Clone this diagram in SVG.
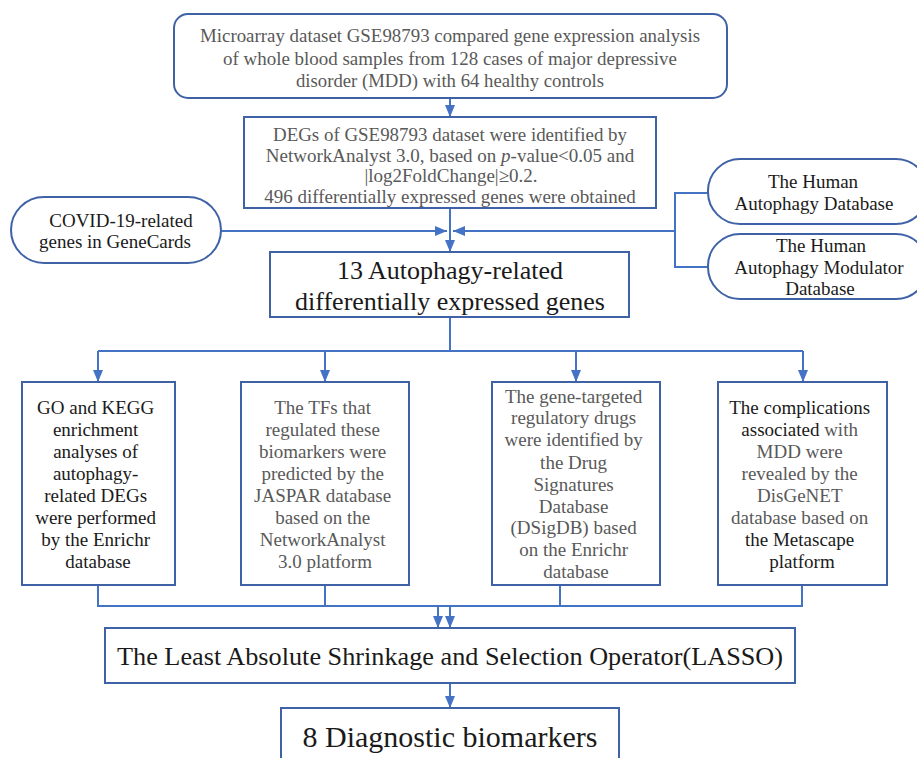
<svg xmlns="http://www.w3.org/2000/svg" width="917" height="758" viewBox="0 0 917 758">
<defs>
<marker id="ah" markerUnits="userSpaceOnUse" markerWidth="12" markerHeight="10" refX="12" refY="5" orient="auto">
<path d="M0,0 L12,5 L0,10 z" fill="#4472C4"/>
</marker>
<style>
.box{fill:#fff;stroke:#3F62A6;stroke-width:2}
.ln{fill:none;stroke:#4472C4;stroke-width:2}
.ar{fill:none;stroke:#4472C4;stroke-width:2;marker-end:url(#ah)}
text{font-family:"Liberation Serif","Times New Roman",serif;text-anchor:middle;font-size:19px}
.g{fill:#595959}
.k{fill:#1a1a1a}
</style>
</defs>
<rect width="917" height="758" fill="#fff"/>
<g id="connectors">
<path class="ar" d="M450,98 V117"/>
<path class="ar" d="M450,208 V252"/>
<path class="ar" d="M221,231 H447"/>
<path class="ln" d="M708,193 H675 V267 H708"/>
<path class="ar" d="M675,231 H453"/>
<path class="ln" d="M450,317 V351 M98,351 H803"/>
<path class="ar" d="M98,351 V382"/>
<path class="ar" d="M325,351 V382"/>
<path class="ar" d="M576,351 V382"/>
<path class="ar" d="M803,351 V382"/>
<path class="ln" d="M98,585 V606 H802 V585 M325,585 V606 M560,585 V606"/>
<path class="ar" d="M438,606 V628"/>
<path class="ar" d="M450,606 V628"/>
<path class="ar" d="M450,683 V708"/>
</g>
<g id="n-dataset">
<rect class="box" x="174" y="14" width="553" height="84" rx="14"/>
<text class="g" x="450" y="42" textLength="500" lengthAdjust="spacingAndGlyphs">Microarray dataset GSE98793 compared gene expression analysis</text>
<text class="g" x="450" y="65" textLength="454" lengthAdjust="spacingAndGlyphs">of whole blood samples from 128 cases of major depressive</text>
<text class="g" x="450" y="87" textLength="308" lengthAdjust="spacingAndGlyphs">disorder (MDD) with 64 healthy controls</text>
</g>
<g id="n-degs">
<rect class="box" x="244" y="117" width="412" height="91"/>
<text class="g" x="450" y="141" textLength="354" lengthAdjust="spacingAndGlyphs">DEGs of GSE98793 dataset were identified by</text>
<text class="g" x="450" y="162">NetworkAnalyst 3.0, based on <tspan font-style="italic">p</tspan>-value&lt;0.05 and</text>
<text class="g" x="451" y="182">|log2FoldChange|≥0.2.</text>
<text class="g" x="450" y="203">496 differentially expressed genes were obtained</text>
</g>
<g id="n-covid">
<rect class="box" x="11" y="197" width="210" height="66" rx="33"/>
<text class="k" x="121" y="227">COVID-19-related</text>
<text class="k" x="115" y="248">genes in GeneCards</text>
</g>
<g id="n-had">
<rect class="box" x="708" y="159" width="220" height="65" rx="32"/>
<text class="k" x="813" y="188">The Human</text>
<text class="k" x="814" y="210">Autophagy Database</text>
</g>
<g id="n-hamd">
<rect class="box" x="708" y="234" width="220" height="65" rx="32"/>
<text class="k" x="821" y="252">The Human</text>
<text class="k" x="819" y="274">Autophagy Modulator</text>
<text class="k" x="820" y="295">Database</text>
</g>
<g id="n-13">
<rect class="box" x="270" y="252" width="359" height="65"/>
<text class="k" font-size="26" x="450" y="279" style="font-size:26px">13 Autophagy-related</text>
<text class="k" x="450" y="310" style="font-size:26px">differentially expressed genes</text>
</g>
<g id="n-go">
<rect class="box" x="22" y="382" width="153" height="203"/>
<text class="k">
<tspan x="98" y="414">GO and KEGG</tspan>
<tspan x="98" y="436">enrichment</tspan>
<tspan x="98" y="458">analyses of</tspan>
<tspan x="98" y="480">autophagy-</tspan>
<tspan x="98" y="502">related DEGs</tspan>
<tspan x="98" y="524">were performed</tspan>
<tspan x="98" y="546">by the Enrichr</tspan>
<tspan x="98" y="568">database</tspan>
</text>
</g>
<g id="n-tf">
<rect class="box" x="241" y="382" width="168" height="203"/>
<text class="g">
<tspan x="325" y="414">The TFs that</tspan>
<tspan x="325" y="436">regulated these</tspan>
<tspan x="325" y="458">biomarkers were</tspan>
<tspan x="325" y="480">predicted by the</tspan>
<tspan x="325" y="502">JASPAR database</tspan>
<tspan x="325" y="524">based on the</tspan>
<tspan x="325" y="546">NetworkAnalyst</tspan>
<tspan x="325" y="568">3.0 platform</tspan>
</text>
</g>
<g id="n-drug">
<rect class="box" x="492" y="382" width="168" height="203"/>
<text class="g">
<tspan x="576" y="403">The gene-targeted</tspan>
<tspan x="576" y="424">regulatory drugs</tspan>
<tspan x="576" y="446">were identified by</tspan>
<tspan x="576" y="469">the Drug</tspan>
<tspan x="576" y="491">Signatures</tspan>
<tspan x="576" y="513">Database</tspan>
<tspan x="576" y="534">(DSigDB) based</tspan>
<tspan x="576" y="556">on the Enrichr</tspan>
<tspan x="576" y="578">database</tspan>
</text>
</g>
<g id="n-comp">
<rect class="box" x="718" y="382" width="169" height="203"/>
<text>
<tspan class="k" x="802" y="414">The complications</tspan>
<tspan class="k" x="802" y="436">associated <tspan class="g">with</tspan></tspan>
<tspan class="g" x="802" y="458">MDD were</tspan>
<tspan class="g" x="802" y="480">revealed by the</tspan>
<tspan class="g" x="802" y="502">DisGeNET</tspan>
<tspan class="g" x="802" y="524">database based on</tspan>
<tspan class="k" x="802" y="546">the Metascape</tspan>
<tspan class="k" x="802" y="568">platform</tspan>
</text>
</g>
<g id="n-lasso">
<rect class="box" x="105" y="628" width="690" height="55"/>
<text class="k" x="450" y="665" style="font-size:26px" textLength="666" lengthAdjust="spacingAndGlyphs">The Least Absolute Shrinkage and Selection Operator(LASSO)</text>
</g>
<g id="n-bio">
<rect class="box" x="281" y="708" width="338" height="70"/>
<text class="k" x="450" y="747" style="font-size:30px">8 Diagnostic biomarkers</text>
</g>
</svg>
